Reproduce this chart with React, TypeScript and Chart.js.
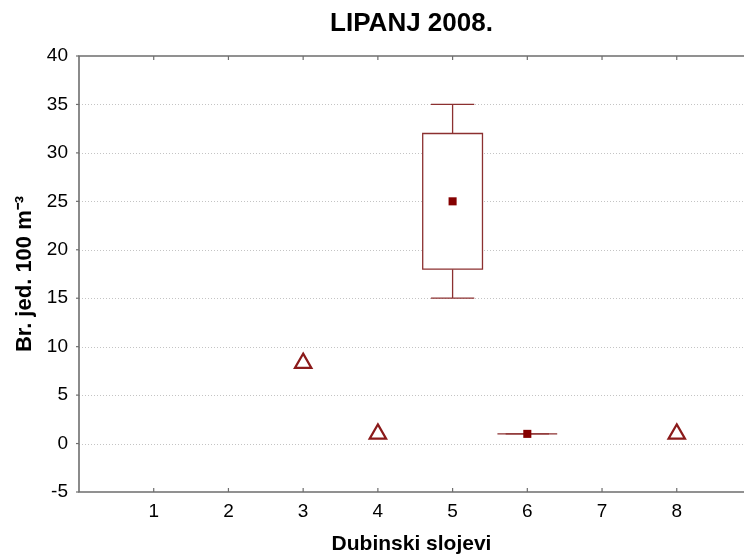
import React, { useEffect, useRef } from 'react';
import { Chart, registerables } from 'chart.js';

Chart.register(...registerables);

const chartTitle = 'LIPANJ 2008.';
const xAxisTitle = 'Dubinski slojevi';
const yAxisTitle = 'Br. jed. 100 m⁻³';

const xTicks = [1, 2, 3, 4, 5, 6, 7, 8];
const xMin = 0;
const xMax = 8.9;
const yMin = -5;
const yMax = 40;
const yStep = 5;

// box plots (layer, min, q1, median, q3, max)
const boxLayers = [5, 6];
const boxMin = [15, 1];
const boxQ1 = [18, 1];
const boxMedian = [25, 1];
const boxQ3 = [32, 1];
const boxMax = [35, 1];

// outliers
const outlierLayers = [3, 4, 8];
const outlierValues = [8.3, 1, 1];

const FONT = "'Liberation Sans', Arial, Helvetica, sans-serif";
const BOX_COLOR = '#8c3030';
const MARK_COLOR = '#850000';

const framePlugin = {
  id: 'frame',
  beforeDatasetsDraw(chart: any) {
    const { ctx, chartArea } = chart;
    const xs = chart.scales.x;
    const ys = chart.scales.y;
    const { left, right, top, bottom } = chartArea;
    ctx.save();
    // dotted grid lines
    ctx.strokeStyle = '#c4c4c4';
    ctx.lineWidth = 1;
    ctx.setLineDash([1, 2]);
    ys.ticks.forEach((t: any) => {
      if (t.value <= yMin || t.value >= yMax) return;
      const y = Math.round(ys.getPixelForValue(t.value)) + 0.5;
      ctx.beginPath();
      ctx.moveTo(left, y);
      ctx.lineTo(right, y);
      ctx.stroke();
    });
    ctx.setLineDash([]);
    // frame
    ctx.strokeStyle = '#6e6e6e';
    ctx.lineWidth = 1.6;
    ctx.beginPath();
    ctx.moveTo(right, top);
    ctx.lineTo(left, top);
    ctx.lineTo(left, bottom);
    ctx.lineTo(right, bottom);
    ctx.stroke();
    // tick marks
    ctx.lineWidth = 1.2;
    xTicks.forEach((v) => {
      const x = xs.getPixelForValue(v);
      ctx.beginPath();
      ctx.moveTo(x, top);
      ctx.lineTo(x, top + 4);
      ctx.moveTo(x, bottom);
      ctx.lineTo(x, bottom - 4);
      ctx.stroke();
    });
    ys.ticks.forEach((t: any) => {
      const y = ys.getPixelForValue(t.value);
      ctx.beginPath();
      ctx.moveTo(left, y);
      ctx.lineTo(left - 3, y);
      ctx.stroke();
    });
    // box plots
    ctx.strokeStyle = BOX_COLOR;
    ctx.lineWidth = 1.3;
    boxLayers.forEach((layer, i) => {
      const xl = xs.getPixelForValue(layer - 0.4);
      const xr = xs.getPixelForValue(layer + 0.4);
      const cl = xs.getPixelForValue(layer - 0.29);
      const cr = xs.getPixelForValue(layer + 0.29);
      const xc = xs.getPixelForValue(layer);
      const yMinP = ys.getPixelForValue(boxMin[i]);
      const yQ1 = ys.getPixelForValue(boxQ1[i]);
      const yQ3 = ys.getPixelForValue(boxQ3[i]);
      const yMaxP = ys.getPixelForValue(boxMax[i]);
      // whiskers
      ctx.beginPath();
      ctx.moveTo(xc, yQ3);
      ctx.lineTo(xc, yMaxP);
      ctx.moveTo(cl, yMaxP);
      ctx.lineTo(cr, yMaxP);
      ctx.moveTo(xc, yQ1);
      ctx.lineTo(xc, yMinP);
      ctx.moveTo(cl, yMinP);
      ctx.lineTo(cr, yMinP);
      ctx.stroke();
      // box
      ctx.fillStyle = '#ffffff';
      ctx.fillRect(xl, yQ3, xr - xl, yQ1 - yQ3);
      ctx.beginPath();
      if (yQ1 - yQ3 < 1) {
        ctx.moveTo(xl, yQ1);
        ctx.lineTo(xr, yQ1);
      } else {
        ctx.rect(xl, yQ3, xr - xl, yQ1 - yQ3);
      }
      ctx.stroke();
    });
    ctx.restore();
  },
};

export default function App() {
  const canvasRef = useRef<HTMLCanvasElement | null>(null);

  useEffect(() => {
    document.body.style.margin = '0';
    document.body.style.overflow = 'hidden';
    const canvas = canvasRef.current;
    if (!canvas) return;
    const chart = new Chart(canvas, {
      type: 'scatter',
      data: {
        datasets: [
          {
            label: 'Medijan',
            data: boxLayers.map((x, i) => ({ x, y: boxMedian[i] })),
            pointStyle: 'rect',
            pointRadius: 5.7,
            pointBackgroundColor: MARK_COLOR,
            pointBorderColor: MARK_COLOR,
            pointBorderWidth: 0,
          },
          {
            label: 'Outliers',
            data: outlierLayers.map((x, i) => ({ x, y: outlierValues[i] })),
            pointStyle: 'triangle',
            pointRadius: 9.5,
            pointBackgroundColor: 'rgba(0,0,0,0)',
            pointBorderColor: '#8b1a1a',
            pointBorderWidth: 2.2,
          },
        ],
      },
      options: {
        responsive: false,
        animation: false,
        events: [],
        layout: { autoPadding: false, padding: { top: 0, right: 0, bottom: 0, left: 0 } },
        plugins: {
          legend: { display: false },
          tooltip: { enabled: false },
          title: {
            display: true,
            fullSize: false,
            text: chartTitle,
            color: '#000',
            font: { family: FONT, size: 26, weight: 'bold' },
            padding: { top: 8, bottom: 16.8 },
          },
        },
        scales: {
          x: {
            type: 'linear',
            min: xMin,
            max: xMax,
            grid: { display: false, drawTicks: false },
            border: { display: false },
            afterBuildTicks: (s: any) => {
              s.ticks = xTicks.map((v) => ({ value: v }));
            },
            afterFit: (s: any) => {
              s.height = 66;
              s.paddingLeft = 0;
              s.paddingRight = 0;
            },
            ticks: {
              color: '#000',
              font: { family: FONT, size: 19 },
              padding: 8,
              maxRotation: 0,
              autoSkip: false,
            },
            title: {
              display: true,
              text: xAxisTitle,
              color: '#000',
              font: { family: FONT, size: 21, weight: 'bold' },
              padding: { top: 0, bottom: 1 },
            },
          },
          y: {
            type: 'linear',
            min: yMin,
            max: yMax,
            grid: { display: false, drawTicks: false },
            border: { display: false },
            afterFit: (s: any) => {
              s.width = 79;
            },
            ticks: {
              stepSize: yStep,
              color: '#000',
              font: { family: FONT, size: 19 },
              padding: 11,
            },
            title: {
              display: true,
              text: yAxisTitle,
              color: '#000',
              font: { family: FONT, size: 22, weight: 'bold' },
              padding: { top: 12, bottom: 0 },
            },
          },
        },
      },
      plugins: [framePlugin],
    } as any);
    return () => chart.destroy();
  }, []);

  return (
    <div style={{ width: 744, height: 558, background: '#fff' }}>
      <canvas ref={canvasRef} width={744} height={558} style={{ display: 'block' }} />
    </div>
  );
}
